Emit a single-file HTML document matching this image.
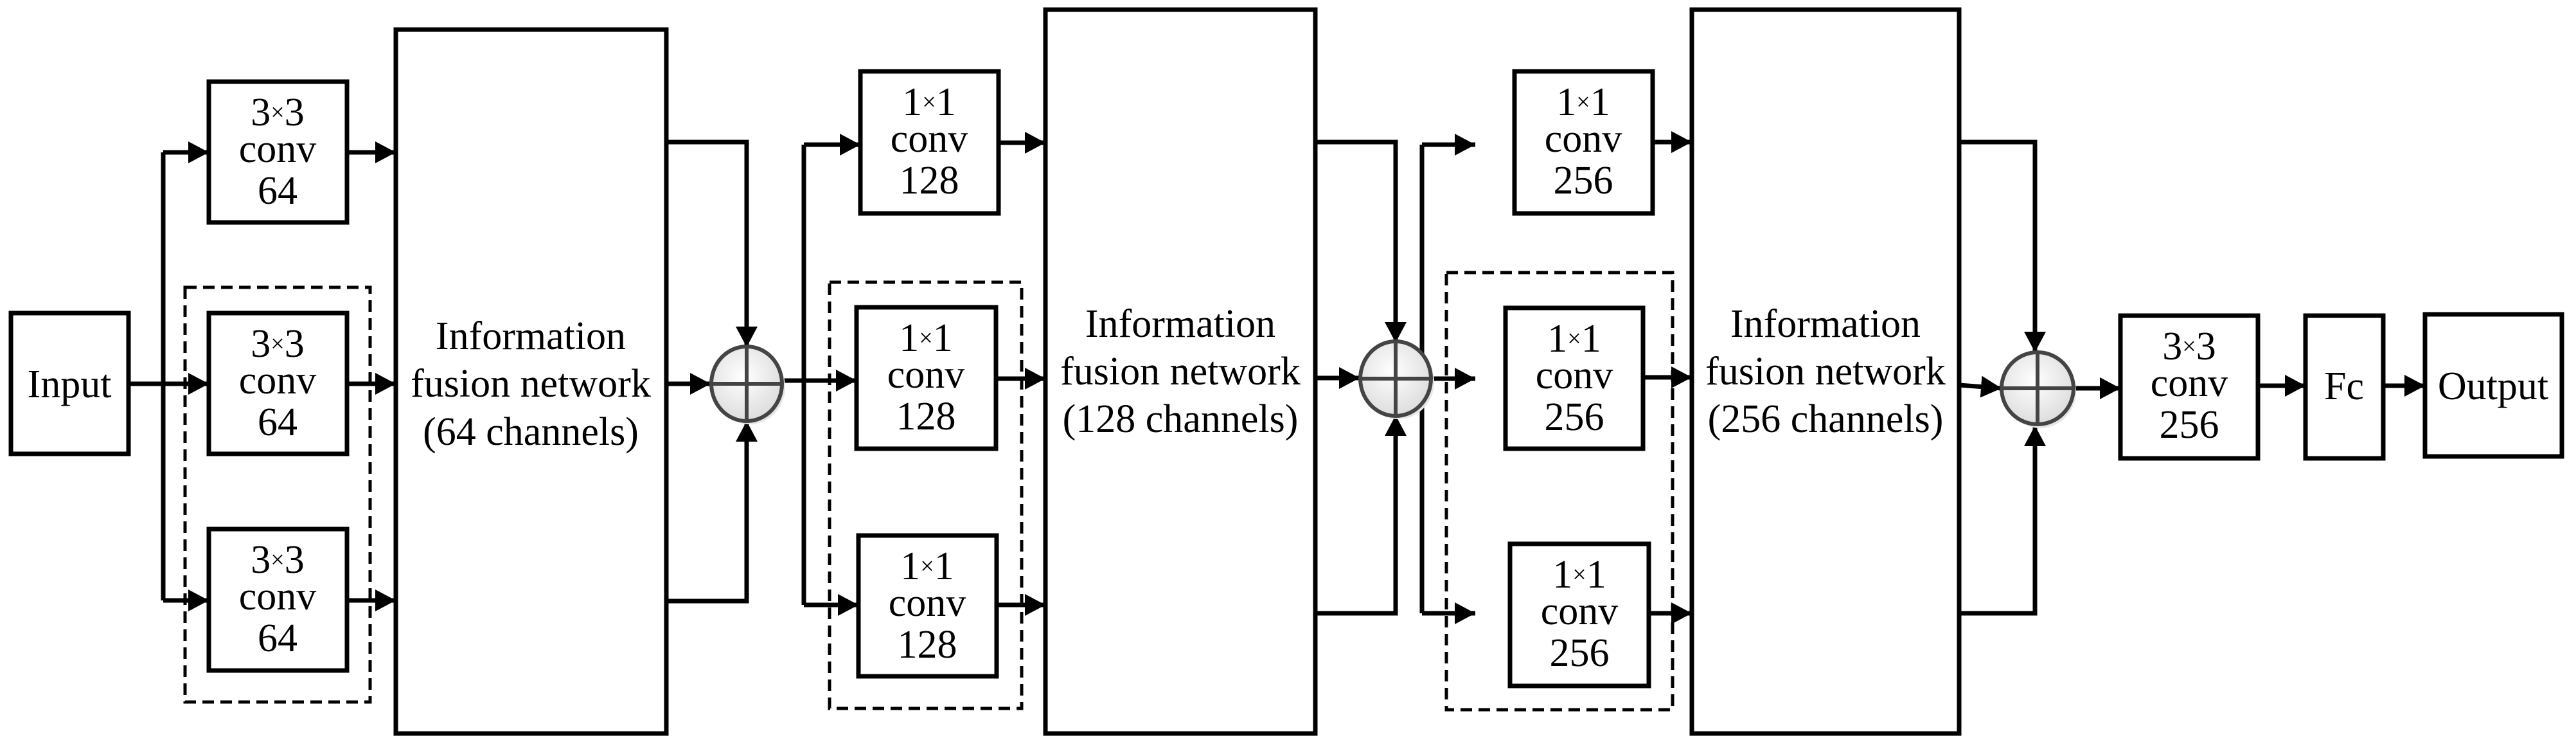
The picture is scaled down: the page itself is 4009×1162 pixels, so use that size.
<!DOCTYPE html>
<html><head><meta charset="utf-8"><style>
html,body{margin:0;padding:0;background:#fff;}
svg{display:block;}
</style></head><body>
<svg width="4009" height="1162" viewBox="0 0 4009 1162" xmlns="http://www.w3.org/2000/svg">
<defs>
<marker id="a" markerUnits="userSpaceOnUse" markerWidth="34" markerHeight="36" refX="32" refY="17" orient="auto">
<path d="M0,0 L32,17 L0,34 z" fill="#000"/></marker>
<radialGradient id="g" cx="0.45" cy="0.4" r="0.6"><stop offset="0" stop-color="#fff"/><stop offset="1" stop-color="#ddd"/></radialGradient>
</defs>
<g fill="none" stroke="#000" stroke-width="7">
<rect x="17" y="487" width="183" height="219"/>
<rect x="325" y="127" width="215" height="219"/>
<rect x="325" y="487" width="215" height="219"/>
<rect x="325" y="823" width="215" height="220"/>
<rect x="616" y="46" width="421" height="1095"/>
<rect x="1339" y="111" width="215" height="221"/>
<rect x="1333" y="478" width="217" height="220"/>
<rect x="1336" y="833" width="215" height="219"/>
<rect x="1627" y="15" width="420" height="1126"/>
<rect x="2357" y="111" width="215" height="221"/>
<rect x="2343" y="479" width="214" height="219"/>
<rect x="2350" y="846" width="216" height="221"/>
<rect x="2633" y="15" width="416" height="1126"/>
<rect x="3300" y="491" width="214" height="222"/>
<rect x="3588" y="491" width="121" height="222"/>
<rect x="3774" y="489" width="213" height="221"/>
</g>
<g fill="none" stroke="#000" stroke-width="5" stroke-dasharray="18,10">
<rect x="288" y="447" width="288" height="645"/>
<rect x="1291" y="439" width="299" height="663"/>
<rect x="2251" y="424" width="352" height="680"/>
</g>
<g fill="none" stroke="#000" stroke-width="7">
<path d="M200,597 H325" marker-end="url(#a)"/>
<path d="M254,237 V934"/>
<path d="M254,237 H325" marker-end="url(#a)"/>
<path d="M254,934 H325" marker-end="url(#a)"/>
<path d="M540,237 H616" marker-end="url(#a)"/>
<path d="M540,597 H616" marker-end="url(#a)"/>
<path d="M540,934 H616" marker-end="url(#a)"/>
<path d="M1037,221 H1162 V540" marker-end="url(#a)"/>
<path d="M1037,597 H1106" marker-end="url(#a)"/>
<path d="M1037,935 H1162 V655" marker-end="url(#a)"/>
<path d="M1218,592 H1333" marker-end="url(#a)"/>
<path d="M1251,225 V941"/>
<path d="M1251,225 H1339" marker-end="url(#a)"/>
<path d="M1251,941 H1336" marker-end="url(#a)"/>
<path d="M1554,222 H1627" marker-end="url(#a)"/>
<path d="M1550,589 H1627" marker-end="url(#a)"/>
<path d="M1551,941 H1627" marker-end="url(#a)"/>
<path d="M2047,221 H2172 V533" marker-end="url(#a)"/>
<path d="M2047,588 H2116" marker-end="url(#a)"/>
<path d="M2047,954 H2172 V646" marker-end="url(#a)"/>
<path d="M2228,589 H2296" marker-end="url(#a)"/>
<path d="M2213,225 V954"/>
<path d="M2213,225 H2296" marker-end="url(#a)"/>
<path d="M2213,954 H2296" marker-end="url(#a)"/>
<path d="M2572,221 H2633" marker-end="url(#a)"/>
<path d="M2557,587 H2633" marker-end="url(#a)"/>
<path d="M2566,954 H2633" marker-end="url(#a)"/>
<path d="M3049,221 H3167 V548" marker-end="url(#a)"/>
<path d="M3049,599 L3115,604" marker-end="url(#a)"/>
<path d="M3049,954 H3167 V662" marker-end="url(#a)"/>
<path d="M3227,604 H3300" marker-end="url(#a)"/>
<path d="M3514,600 H3588" marker-end="url(#a)"/>
<path d="M3709,600 H3774" marker-end="url(#a)"/>
</g>
<g stroke="#444" stroke-width="6">
<ellipse cx="1166" cy="602" rx="56" ry="58" fill="#e6e6e6" stroke="none"/>
<ellipse cx="1162" cy="597" rx="55" ry="58" fill="url(#g)"/>
<path d="M1107,597 H1217 M1162,539 V655" fill="none"/>
<ellipse cx="2176" cy="594" rx="56" ry="58" fill="#e6e6e6" stroke="none"/>
<ellipse cx="2172" cy="589" rx="55" ry="58" fill="url(#g)"/>
<path d="M2117,589 H2227 M2172,531 V647" fill="none"/>
<ellipse cx="3175" cy="609" rx="56" ry="57" fill="#e6e6e6" stroke="none"/>
<ellipse cx="3171" cy="604" rx="56" ry="56" fill="url(#g)"/>
<path d="M3115,604 H3227 M3171,548 V660" fill="none"/>
</g>
<g style="font-family:'Liberation Serif','DejaVu Serif',serif" font-size="62" text-anchor="middle" fill="#000">
<text x="108" y="618">Input</text>
<text x="432" y="195">3<tspan font-size="38" dy="-8">×</tspan><tspan dy="8">3</tspan></text><text x="432" y="252">conv</text><text x="432" y="317">64</text>
<text x="432" y="555">3<tspan font-size="38" dy="-8">×</tspan><tspan dy="8">3</tspan></text><text x="432" y="612">conv</text><text x="432" y="677">64</text>
<text x="432" y="891">3<tspan font-size="38" dy="-8">×</tspan><tspan dy="8">3</tspan></text><text x="432" y="948">conv</text><text x="432" y="1013">64</text>
<text x="826" y="543">Information</text><text x="826" y="617">fusion network</text><text x="826" y="692">(64 channels)</text>
<text x="1446" y="179">1<tspan font-size="38" dy="-8">×</tspan><tspan dy="8">1</tspan></text><text x="1446" y="236">conv</text><text x="1446" y="301">128</text>
<text x="1441" y="546">1<tspan font-size="38" dy="-8">×</tspan><tspan dy="8">1</tspan></text><text x="1441" y="603">conv</text><text x="1441" y="668">128</text>
<text x="1443" y="901">1<tspan font-size="38" dy="-8">×</tspan><tspan dy="8">1</tspan></text><text x="1443" y="958">conv</text><text x="1443" y="1023">128</text>
<text x="1837" y="524">Information</text><text x="1837" y="598">fusion network</text><text x="1837" y="672">(128 channels)</text>
<text x="2464" y="179">1<tspan font-size="38" dy="-8">×</tspan><tspan dy="8">1</tspan></text><text x="2464" y="236">conv</text><text x="2464" y="301">256</text>
<text x="2450" y="547">1<tspan font-size="38" dy="-8">×</tspan><tspan dy="8">1</tspan></text><text x="2450" y="604">conv</text><text x="2450" y="669">256</text>
<text x="2458" y="914">1<tspan font-size="38" dy="-8">×</tspan><tspan dy="8">1</tspan></text><text x="2458" y="971">conv</text><text x="2458" y="1036">256</text>
<text x="2841" y="524">Information</text><text x="2841" y="598">fusion network</text><text x="2841" y="672">(256 channels)</text>
<text x="3407" y="559">3<tspan font-size="38" dy="-8">×</tspan><tspan dy="8">3</tspan></text><text x="3407" y="616">conv</text><text x="3407" y="681">256</text>
<text x="3648" y="621">Fc</text>
<text x="3880" y="621">Output</text>
</g>
</svg>
</body></html>
